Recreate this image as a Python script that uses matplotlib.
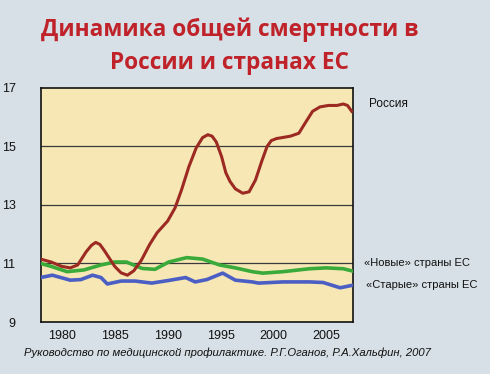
from matplotlib import pyplot as plt

plt.rcParams['font.family'] = ['Liberation Sans', 'DejaVu Sans']

# Россия
years_ru = [1978, 1979, 1980, 1980.8, 1981.5, 1982.3, 1982.8, 1983.2, 1983.6, 1984, 1985,
            1985.6, 1986.2, 1986.8, 1987.5, 1988.3, 1989, 1990, 1990.7, 1991.3, 1992,
            1992.7, 1993.3, 1993.8, 1994.2, 1994.6, 1995.1, 1995.5, 1995.9, 1996.4,
            1997.1, 1997.7, 1998.3, 1998.9, 1999.4, 1999.8, 2000.3, 2000.8, 2001.6,
            2002.4, 2003, 2003.7, 2004.4, 2005.2, 2006, 2006.6, 2007, 2007.4]
russia = [11.15, 11.05, 10.9, 10.85, 10.95, 11.4, 11.62, 11.72, 11.65, 11.45, 10.9,
          10.68, 10.6, 10.75, 11.1, 11.65, 12.05, 12.45, 12.9, 13.5, 14.3,
          14.95, 15.3, 15.4, 15.35, 15.15, 14.65, 14.1, 13.8, 13.55,
          13.4, 13.45, 13.85, 14.5, 15.0, 15.2, 15.27, 15.3, 15.35,
          15.45, 15.8, 16.2, 16.35, 16.4, 16.4, 16.45, 16.4, 16.2]

# «Новые» страны ЕС
years_new = [1978, 1979, 1980.5, 1982.1, 1983.7, 1985, 1986.1, 1987.6, 1988.8, 1990.1,
             1991.8, 1993.3, 1994.9, 1996.4, 1998, 1999, 2000.9, 2003.4, 2005, 2006.6, 2007.5]
new_eu = [11.0, 10.9, 10.72, 10.78, 10.95, 11.05, 11.05, 10.83, 10.8, 11.05,
          11.2, 11.15, 10.95, 10.85, 10.72, 10.67, 10.72, 10.82, 10.85, 10.82, 10.74]

# «Старые» страны ЕС
years_old = [1978, 1979.1, 1980.8, 1981.8, 1982.9, 1983.7, 1984.3, 1985.6, 1986.9, 1988.5,
             1990.1, 1991.7, 1992.6, 1993.7, 1995.2, 1996.4, 1998, 1998.6, 2000.9, 2003.4,
             2004.7, 2006.3, 2007.4]
old_eu = [10.52, 10.6, 10.43, 10.45, 10.6, 10.52, 10.3, 10.4, 10.4, 10.33,
          10.42, 10.52, 10.37, 10.45, 10.67, 10.43, 10.37, 10.33, 10.37, 10.37,
          10.35, 10.17, 10.25]

xticks = [1980, 1985, 1990, 1995, 2000, 2005]
yticks = [9, 11, 13, 15, 17]

fig = plt.figure(figsize=(4.9, 3.74), dpi=100, facecolor='#d6e0e6')
ax = fig.add_axes([0.083, 0.139, 0.637, 0.626])
ax.set_facecolor('#f6e7b5')

for g in [11, 13, 15]:
    ax.axhline(g, color='#3a3a3a', lw=0.9, zorder=1)

ax.plot(years_old, old_eu, color='#4b5ec4', lw=2.6, zorder=3, solid_joinstyle='round')
ax.plot(years_new, new_eu, color='#3aaa3a', lw=2.6, zorder=3, solid_joinstyle='round')
ax.plot(years_ru, russia, color='#9c2a22', lw=2.2, zorder=4, solid_joinstyle='round')

ax.set_xlim(1978, 2007.5)
ax.set_ylim(9, 17)
ax.set_xticks(xticks)
ax.set_yticks(yticks)
ax.tick_params(axis='both', length=0, labelsize=9, colors='#111111')
ax.tick_params(axis='y', pad=18)
ax.tick_params(axis='x', pad=6)
for s in ax.spines.values():
    s.set_linewidth(1.2)
    s.set_color('#111111')

fig.text(0.468, 0.92, 'Динамика общей смертности в', ha='center', va='center',
         fontsize=16.3, fontweight='bold', color='#c0222a', family=['Open Sans', 'DejaVu Sans'])
fig.text(0.468, 0.832, 'России и странах ЕС', ha='center', va='center',
         fontsize=16.3, fontweight='bold', color='#c0222a', family=['Open Sans', 'DejaVu Sans'])

fig.text(0.753, 0.722, 'Россия', fontsize=8.5, va='center', color='#111111')
fig.text(0.743, 0.297, '«Новые» страны ЕС', fontsize=8, va='center', color='#111111')
fig.text(0.746, 0.238, '«Старые» страны ЕС', fontsize=8, va='center', color='#111111')

fig.text(0.049, 0.056, 'Руководство по медицинской профилактике. Р.Г.Оганов, Р.А.Хальфин, 2007',
         fontsize=8.1, style='italic', va='center', color='#111111')

fig.savefig('out.png', dpi=100, facecolor=fig.get_facecolor())
